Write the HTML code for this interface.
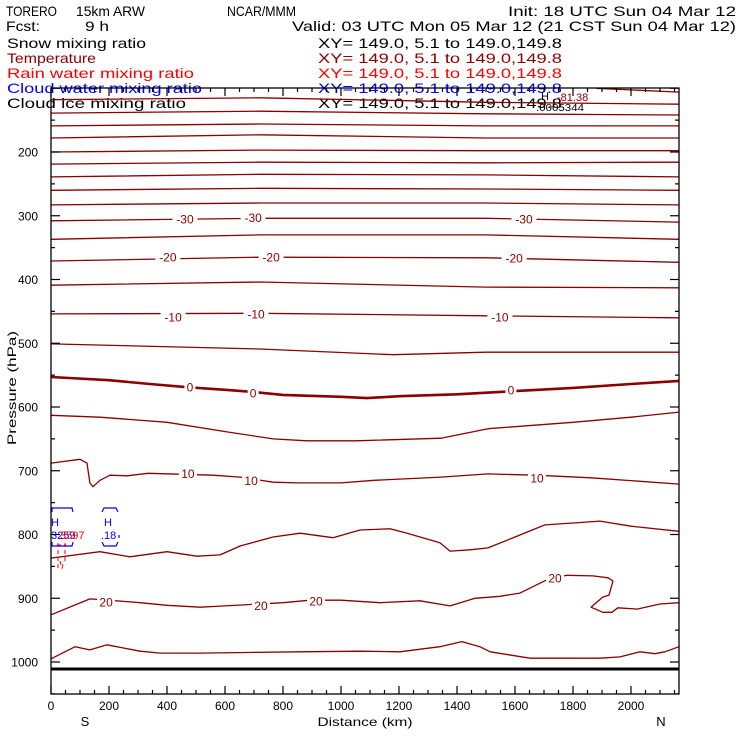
<!DOCTYPE html>
<html><head><meta charset="utf-8"><style>
html,body{margin:0;padding:0;background:#fff;width:740px;height:740px;overflow:hidden}
svg{display:block}
text{font-family:"Liberation Sans",sans-serif}
</style></head><body>
<svg id="chart" width="740" height="740" viewBox="0 0 740 740" xmlns="http://www.w3.org/2000/svg">
<g font-size="14">
<text x="6" y="16" textLength="51" lengthAdjust="spacingAndGlyphs">TORERO</text>
<text x="76" y="16" textLength="69" lengthAdjust="spacingAndGlyphs">15km ARW</text>
<text x="227" y="16" textLength="69" lengthAdjust="spacingAndGlyphs">NCAR/MMM</text>
<text x="508" y="16" textLength="228" lengthAdjust="spacingAndGlyphs">Init: 18 UTC Sun 04 Mar 12</text>
<text x="6" y="31" textLength="34" lengthAdjust="spacingAndGlyphs">Fcst:</text>
<text x="85" y="31" textLength="24" lengthAdjust="spacingAndGlyphs">9 h</text>
<text x="292" y="31" textLength="444" lengthAdjust="spacingAndGlyphs">Valid: 03 UTC Mon 05 Mar 12 (21 CST Sun 04 Mar 12)</text>
<text x="7" y="48" textLength="139" lengthAdjust="spacingAndGlyphs">Snow mixing ratio</text>
<text x="318" y="48" textLength="244" lengthAdjust="spacingAndGlyphs">XY= 149.0,  5.1 to 149.0,149.8</text>
<text x="7" y="63" fill="#8b0000" textLength="89" lengthAdjust="spacingAndGlyphs">Temperature</text>
<text x="318" y="63" fill="#8b0000" textLength="244" lengthAdjust="spacingAndGlyphs">XY= 149.0,  5.1 to 149.0,149.8</text>
<text x="7" y="78" fill="#ff0000" textLength="187" lengthAdjust="spacingAndGlyphs">Rain water mixing ratio</text>
<text x="318" y="78" fill="#ff0000" textLength="244" lengthAdjust="spacingAndGlyphs">XY= 149.0,  5.1 to 149.0,149.8</text>
<text x="7" y="93" fill="#0000ff" textLength="195" lengthAdjust="spacingAndGlyphs">Cloud water mixing ratio</text>
<text x="318" y="93" fill="#0000ff" textLength="244" lengthAdjust="spacingAndGlyphs">XY= 149.0,  5.1 to 149.0,149.8</text>
<text x="7" y="108" textLength="179" lengthAdjust="spacingAndGlyphs">Cloud ice mixing ratio</text>
<text x="318" y="108" textLength="244" lengthAdjust="spacingAndGlyphs">XY= 149.0,  5.1 to 149.0,149.8</text>
</g>
<g id="plot"></g>
</svg>
<script>
// temperature contour levels (°C), distances (km) and pressures (hPa)
const levels = [-80,-75,-70,-65,-60,-55,-50,-45,-40,-35,-30,-25,-20,-15,-10,-5,0,5,10,15,20,25];
const contourDist = [
 [1880,2166],
 [0,720,1500,2166],[0,720,1500,2166],[0,720,1500,2166],[0,720,1500,2166],
 [0,720,1500,2166],[0,720,1500,2166],[0,720,1500,2166],[0,720,1500,2166],
 [0,720,1500,2166],[0,720,1500,2166],[0,720,1500,2166],[0,720,1500,2166],
 [0,720,1500,2166],[0,720,1500,2166],
 [0,720,1180,1500,2166],
 [0,200,341,469,600,686,800,1000,1090,1200,1400,1600,1800,2000,2166],
 [0,169,400,607,766,883,1052,1345,1507,1800,2000,2166],
 [0,100,124,134,145,169,203,262,334,559,652,766,852,1000,1114,1345,1507,1672,1862,2166],
 [0,169,272,400,503,583,652,766,859,972,1066,1169,1228,1341,1376,1445,1507,1600,1703,1800,1893,2000,2166],
 [0,134,200,307,400,514,600,800,893,1000,1134,1272,1376,1462,1548,1617,1710,1779,1869,1921,1938,1924,1903,1862,1903,1934,1955,2021,2100,2166],
 [0,83,134,193,307,376,514,859,1066,1203,1341,1417,1479,1514,1652,1893,1962,2031,2083,2117,2166]
];
const contourPres = [
 [100,106],
 [118,115,122,125],[139,136,140,142],[159,156,159,159],[178,173,178,178],
 [200,197,198,198],[219,216,217,216],[239,235,236,239],[260,257,258,260],
 [283,280,280,283],[308,304,304,310],[337,330,330,337],[371,365,366,373],
 [409,404,412,413],[454,453,457,460],
 [501,509,518,514,514],
 [553,558,564,569,573,576,581,584,586,583,580,575,570,564,559],
 [613,616,624,639,650,653,653,649,634,624,616,608],
 [688,682,688,719,725,715,707,708,704,707,710,718,719,719,715,710,705,707,711,721],
 [837,827,835,827,834,832,818,804,798,805,793,791,798,813,826,824,821,804,785,782,779,787,795],
 [926,901,903,907,911,914,912,907,903,903,907,904,912,900,897,892,871,864,865,868,873,895,898,914,922,922,915,917,909,907],
 [995,976,981,973,983,986,986,984,983,984,976,968,976,984,994,994,992,984,987,984,976]
];
// contour label positions
const labelText = ["-30","-30","-30","-20","-20","-20","-10","-10","-10","0","0","0","10","10","10","20","20","20","20"];
const labelDist = [462,697,1631,403,759,1597,421,707,1548,479,697,1586,472,690,1676,190,724,914,1738];
const labelPres = [305,303,305,365,365,366,459,454,459,569,578,573,704,715,711,906,911,904,868];
// axis ticks
const yTickLabels = [200,300,400,500,600,700,800,900,1000];
const xTickLabels = [0,200,400,600,800,1000,1200,1400,1600,1800,2000];
const surfacePres = 1011;

const NS='http://www.w3.org/2000/svg';
const L=51,R=679,T=88,B=694;
function xs(d){return L+d*0.29;}
function ys(p){return 152+(p-200)*0.6375;}
const g=document.getElementById('plot');
function mk(tag,attrs,parent){const e=document.createElementNS(NS,tag);for(const k in attrs)e.setAttribute(k,attrs[k]);(parent||g).appendChild(e);return e;}

const cg=mk('g',{});


levels.forEach((lv,i)=>{
  const pts=contourDist[i].map((d,j)=>xs(d).toFixed(1)+','+ys(contourPres[i][j]).toFixed(1)).join(' ');
  const pl=mk('polyline',{points:pts,fill:'none',stroke:'#8b0000','stroke-width':lv===0?2.6:1.3,'stroke-linejoin':'round'},cg);
  
  
});
const sf=mk('line',{x1:xs(0),x2:R,y1:ys(surfacePres),y2:ys(surfacePres),stroke:'#000','stroke-width':3});



labelText.forEach((t,i)=>{
  const x=xs(labelDist[i]),y=ys(labelPres[i]);
  const w=t.length*7+4;
  const r=mk('rect',{x:x-w/2,y:y-6,width:w,height:12,fill:'#fff'});
  
  
  const tx=mk('text',{x:x,y:y+4.5,'text-anchor':'middle','font-size':12,fill:'#8b0000'});
  
  
  tx.textContent=t;
});

const fr=mk('rect',{x:L,y:T,width:R-L,height:B-T,fill:'none',stroke:'#000','stroke-width':1.3});


for(let p=100;p<=1050;p+=50){
  const y=ys(p);const maj=p%100===0;const len=maj?9:4;
  if(y<T||y>B)continue;
  const t1=mk('line',{x1:L,x2:L+len,y1:y,y2:y,stroke:'#000','stroke-width':1.2});
  
  
  const t2=mk('line',{x1:R,x2:R-len,y1:y,y2:y,stroke:'#000','stroke-width':1.2});
  
  
}
yTickLabels.forEach(p=>{
  const t=mk('text',{x:38,y:ys(p)+4.5,'text-anchor':'end','font-size':12});
  
  
  t.textContent=p;
});
for(let d=0;d<=2150;d+=50){
  const x=xs(d);const maj=d%200===0;const len=maj?8:4;
  const t1=mk('line',{x1:x,x2:x,y1:B,y2:B-len,stroke:'#000','stroke-width':1.2});
  
  
  const t2=mk('line',{x1:x,x2:x,y1:T,y2:T+len,stroke:'#000','stroke-width':1.2});
  
  
}
xTickLabels.forEach(d=>{
  const t=mk('text',{x:xs(d),y:710,'text-anchor':'middle','font-size':12});
  
  
  t.textContent=d;
});
const xt=mk('text',{x:365,y:726,'text-anchor':'middle','font-size':12,textLength:95,lengthAdjust:'spacingAndGlyphs'});


xt.textContent='Distance (km)';
const sL=mk('text',{x:85,y:726,'text-anchor':'middle','font-size':13});


sL.textContent='S';
const nL=mk('text',{x:661,y:726,'text-anchor':'middle','font-size':13});


nL.textContent='N';
const yt=mk('text',{x:0,y:0,'text-anchor':'middle','font-size':12,transform:'translate(16,388) rotate(-90)',textLength:114,lengthAdjust:'spacingAndGlyphs'});


yt.textContent='Pressure (hPa)';

const h1=mk('text',{x:541,y:100,'font-size':11});


h1.textContent='H';
const h2=mk('text',{x:557,y:101,'font-size':11,fill:'#8b0000'});


h2.textContent='-81.38';
const h3=mk('text',{x:536,y:111,'font-size':10,textLength:48,lengthAdjust:'spacingAndGlyphs'});


h3.textContent='.0005344';

const cw=mk('g',{fill:'none',stroke:'#0000ff','stroke-width':1.2});


mk('path',{d:'M52 512 L52 508 L72 508 L73 512 M52 542 L52 546 L72 546 L73 542 M102 512 L104 508 L116 508 L118 512 M102 542 L104 546 L116 546 L118 542 M119 535 L119 538'},cw);
const b1=mk('text',{x:51,y:526,'font-size':11,fill:'#0000ff'});


b1.textContent='H';
const b2=mk('text',{x:104,y:526,'font-size':11,fill:'#0000ff'});


b2.textContent='H';
const b3=mk('text',{x:51,y:539,'font-size':11,fill:'#0000ff'});


b3.textContent='3259';
const r1=mk('text',{x:60,y:539,'font-size':11,fill:'#ff0000'});


r1.textContent='3597';
const b4=mk('text',{x:101,y:539,'font-size':11,fill:'#0000ff'});


b4.textContent='.18';
const rr=mk('path',{d:'M58 543 L58 568 M65 543 L65 562 M60 561 L62 568 L64 561 M57 545 L66 545',fill:'none',stroke:'#ff0000','stroke-width':1,'stroke-dasharray':'4 3'});


</script>
</body></html>
